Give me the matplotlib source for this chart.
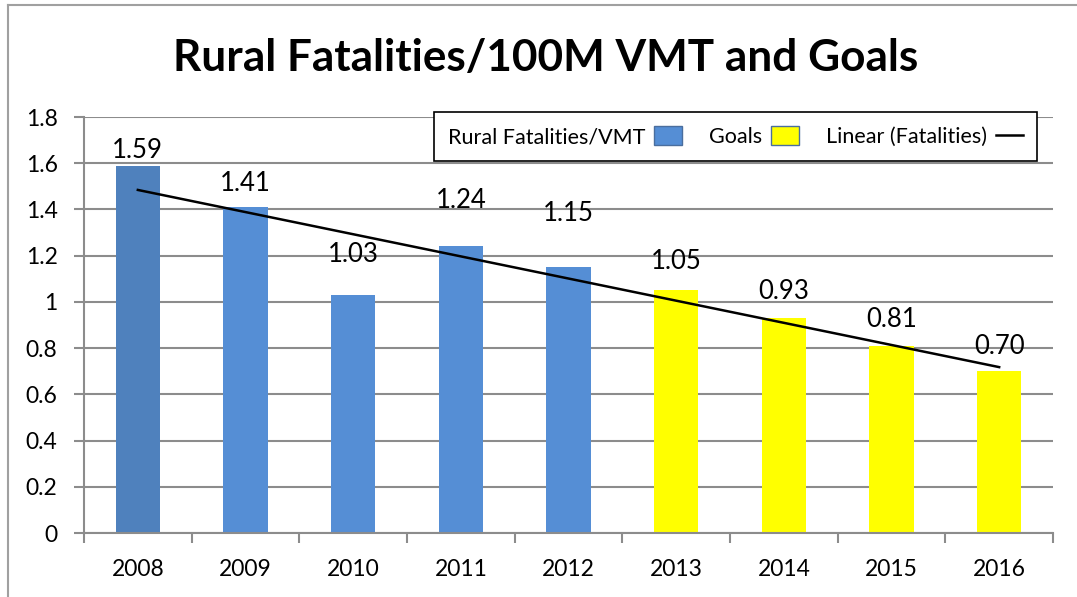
import numpy as np
import matplotlib
matplotlib.use('Agg')
from matplotlib import pyplot
from matplotlib.patches import Patch
from matplotlib.lines import Line2D

#------------------------------------------------------------------------------
# Data
#------------------------------------------------------------------------------
years = ['2008', '2009', '2010', '2011', '2012', '2013', '2014', '2015', '2016']
rates = [1.59, 1.41, 1.03, 1.24, 1.15, 1.05, 0.93, 0.81, 0.70]
is_goal = [False, False, False, False, False, True, True, True, True]
labels = ['1.59', '1.41', '1.03', '1.24', '1.15', '1.05', '0.93', '0.81', '0.70']

# label offsets above bar top (points), the way excel scattered them
label_offsets = [11, 17, 29, 33, 39, 21, 19, 19, 18]

blue = '#558ED5'
blue_first = '#4F81BD'
yellow = '#FFFF00'
grid_col = '#8C8C8C'

pyplot.rcParams['font.family'] = ['Lato', 'DejaVu Sans']

fig = pyplot.figure(figsize=(10.77, 5.97), dpi=100)
ax = fig.add_axes([0.078, 0.1072, 0.8997, 0.6968])

x = np.arange(len(years))
colors = [yellow if g else blue for g in is_goal]
colors[0] = blue_first
ax.bar(x, rates, width=0.41, color=colors, zorder=2)

# linear trend over all years
k, b = np.polyfit(x, rates, 1)
ax.plot(x, k * x + b, color='black', lw=1.8, zorder=3)

for i in range(len(years)):
    ax.annotate(labels[i], (x[i], rates[i]), xytext=(0, label_offsets[i]),
                textcoords='offset points', ha='center', va='center',
                fontsize=18.5, zorder=4)

ax.set_xlim(-0.5, len(years) - 0.5)
ax.set_ylim(0, 1.8)
ax.set_yticks(np.arange(0, 1.81, 0.2))
ax.set_yticklabels(['0', '0.2', '0.4', '0.6', '0.8', '1', '1.2', '1.4', '1.6', '1.8'])
ax.set_xticks(x)
ax.set_xticklabels(years)
ax.set_xticks(np.arange(-0.5, len(years), 1), minor=True)
ax.tick_params(axis='x', which='major', length=0, labelsize=16.5, pad=19)
ax.tick_params(axis='x', which='minor', length=7, width=1.5, color=grid_col, direction='out')
ax.tick_params(axis='y', length=7, width=1.5, color=grid_col, labelsize=16.5, pad=12)
ax.yaxis.grid(True, color=grid_col, lw=1.5, zorder=0)
ax.set_axisbelow(True)
for s in ['top', 'right']:
    ax.spines[s].set_visible(False)
for s in ['left', 'bottom']:
    ax.spines[s].set_color(grid_col)
    ax.spines[s].set_linewidth(1.5)

handles = [Patch(facecolor=blue, edgecolor='#4A6E9E', lw=1),
           Patch(facecolor=yellow, edgecolor='#4A6E9E', lw=1),
           Line2D([], [], color='black', lw=1.8)]
leg = ax.legend(handles, ['Rural Fatalities/VMT', 'Goals', 'Linear (Fatalities)'],
                ncol=3, markerfirst=False, loc='upper right',
                bbox_to_anchor=(0.984, 1.012), fontsize=15.5, frameon=True,
                fancybox=False, edgecolor='black', framealpha=1,
                handlelength=1.3, handleheight=1.0, handletextpad=0.4,
                columnspacing=1.25, borderpad=0.65, borderaxespad=0)
leg.get_frame().set_linewidth(1.2)
leg.set_zorder(5)

fig.suptitle('Rural Fatalities/100M VMT and Goals', x=0.507, y=0.903,
             fontsize=31.8, fontweight='bold', va='center')

# chart area border (top and left only visible)
fig.add_artist(Line2D([0.0074, 0.0074], [0, 0.9916], transform=fig.transFigure,
                      color='#A0A0A0', lw=1.5))
fig.add_artist(Line2D([0.0074, 1], [0.9916, 0.9916], transform=fig.transFigure,
                      color='#A0A0A0', lw=1.5))

pyplot.savefig('out.png', dpi=100)
